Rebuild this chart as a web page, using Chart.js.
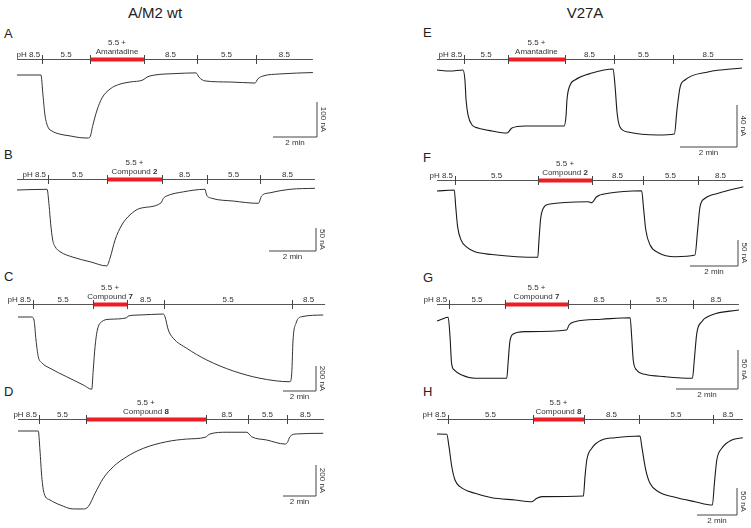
<!DOCTYPE html>
<html>
<head>
<meta charset="utf-8">
<script src="https://cdn.jsdelivr.net/npm/chart.js@4.4.1/dist/chart.umd.min.js"></script>
<style>
  body { margin: 0; width: 751px; height: 528px; position: relative; overflow: hidden; background: #fff;
         font-family: "Liberation Sans", Arial, sans-serif; color: #222; }
  canvas { position: absolute; }
  .ttl { position: absolute; font-size: 15px; line-height: 1; transform: translateX(-50%); white-space: nowrap; }
  .let { position: absolute; font-size: 13px; line-height: 1; }
</style>
</head>
<body>
<div class="ttl" style="left:155px;top:5px">A/M2 wt</div>
<div class="ttl" style="left:585px;top:5px">V27A</div>
<div class="let" style="left:4px;top:27px">A</div>
<div class="let" style="left:423px;top:26px">E</div>
<div class="let" style="left:4px;top:148px">B</div>
<div class="let" style="left:423px;top:151px">F</div>
<div class="let" style="left:4px;top:270px">C</div>
<div class="let" style="left:423px;top:271px">G</div>
<div class="let" style="left:4px;top:385px">D</div>
<div class="let" style="left:423px;top:385px">H</div>
<script>
"use strict";

const RED = "#ee1c25";
const FONT = '"Liberation Sans", Arial, sans-serif';

// Recordings: time in min from start of trace, current in nA relative to the first pH 8.5 level.
const timeA = [0, 0.59, 1.09, 1.18, 1.27, 1.41, 1.59, 1.95, 2.41, 2.86, 3.23, 3.32, 3.45, 3.64, 3.86, 4.23, 4.68, 5.14, 5.73, 5.91, 6.27, 7.18, 8.14, 8.27, 8.55, 9.68, 10.82, 10.95, 11.18, 11.95, 13.45];
const currentA = [0, 0, 0, -57, -114, -149, -160, -169, -174, -179, -180, -177, -143, -100, -66, -40, -26, -20, -14, -6, 0, 4, 6, -6, -17, -20, -23, -11, -3, 3, 7];

const timeB = [0, 1.28, 1.37, 1.43, 1.52, 1.62, 1.83, 2.38, 3.11, 3.82, 3.96, 4.17, 4.46, 4.81, 5.23, 6.13, 6.23, 6.37, 7.08, 8.0, 8.07, 8.29, 9.20, 10.27, 10.41, 10.77, 11.62, 12.68];
const currentB = [0, 1.5, -36, -72, -109, -123, -134, -146, -156, -165, -148, -109, -76, -54, -40, -28, -18, -13, -4, 1.5, -11, -18, -24, -29, -13, -6, 1.5, 3.7];

const timeC = [0, 0.83, 0.97, 1.09, 1.23, 1.44, 1.94, 2.95, 3.96, 4.47, 4.56, 4.67, 4.81, 5.07, 5.58, 6.59, 6.68, 7.39, 8.81, 8.91, 9.11, 9.41, 10.22, 11.44, 13.05, 14.67, 16.48, 16.59, 16.67, 16.85, 17.19, 18.50];
const currentC = [0, 0, -24, -184, -318, -366, -410, -478, -544, -578, -424, -238, -104, -38, -18, -6, 8, 16, 24, 2, -104, -170, -250, -344, -432, -490, -518, -450, -184, -50, 2, 16];

const timeD = [0, 1.23, 1.33, 1.44, 1.58, 1.94, 2.55, 3.35, 3.96, 4.26, 4.67, 5.17, 5.78, 6.59, 7.59, 9.01, 10.22, 11.33, 11.64, 12.65, 13.87, 14.16, 15.07, 16.18, 16.32, 16.48, 16.89, 18.50];
const currentD = [0, 0, -123, -295, -402, -445, -477, -503, -503, -488, -402, -305, -230, -166, -112, -69, -52, -41, -19, -8, -8, -37, -58, -84, -75, -37, -19, -15];

const timeE = [0, 0.46, 0.91, 0.98, 1.02, 1.09, 1.23, 1.44, 1.93, 2.46, 2.63, 3.09, 3.89, 4.46, 4.53, 4.56, 4.67, 4.84, 5.44, 6.18, 6.25, 6.32, 6.42, 6.70, 7.75, 8.33, 8.42, 8.53, 8.70, 9.51, 10.70];
const currentE = [0, -1, 0, -9.5, -28.6, -42.9, -52.4, -55.2, -58.1, -60, -55.2, -53.3, -53.3, -53.3, -42.9, -28.6, -14.3, -9.5, -2.9, 1, -16.2, -41, -54.3, -59, -61.9, -61, -38, -16.2, -9.5, -1.9, 1.9];

const timeF = [0, 0.72, 0.78, 0.86, 1.0, 1.24, 1.58, 2.28, 4.20, 4.25, 4.32, 4.43, 4.64, 6.30, 6.45, 6.65, 7.14, 8.53, 8.60, 8.70, 8.88, 9.22, 9.92, 10.75, 10.86, 10.96, 11.17, 11.72, 12.76];
const currentF = [0, 1.9, -30, -69, -94, -108, -117, -122, -127.5, -94, -52.5, -33, -25.6, -20.6, -22.5, -11, -4.4, 0.6, -30, -75, -104, -118.7, -126.3, -123, -75, -30, -14, -4.4, 8.3];

const timeG = [0, 0.15, 0.36, 0.42, 0.47, 0.56, 0.80, 1.23, 2.25, 2.30, 2.35, 2.46, 2.84, 4.18, 4.26, 4.45, 5.31, 6.23, 6.28, 6.33, 6.44, 6.71, 7.35, 8.24, 8.30, 8.38, 8.54, 8.86, 9.74];
const currentG = [-5.1, -2.9, -0.4, -25.3, -59.4, -68, -74.4, -78.6, -78.6, -55.1, -31.7, -21.8, -18.8, -16.7, -10.3, -6, -2.9, -0.9, -25.3, -55.1, -68, -73.5, -76.5, -78.6, -55.1, -20.9, -6, 2.6, 9];

const timeH = [0, 0.49, 0.6, 0.74, 0.9, 1.15, 1.9, 2.74, 3.9, 4.74, 4.99, 5.24, 7.32, 7.4, 7.49, 7.74, 8.24, 8.9, 10.15, 10.24, 10.44, 10.65, 11.07, 11.9, 12.9, 13.77, 13.87, 13.99, 14.24, 14.74, 15.29];
const currentH = [0, -0.6, -23.5, -60.6, -85.2, -97.6, -109.8, -118, -122.2, -125.4, -119, -116, -114.8, -79, -48.1, -26.5, -11.1, -6.9, -3.7, -23.5, -66.7, -91.3, -106.9, -117.2, -125.4, -131.5, -91.3, -48.1, -26.5, -11.1, -6.9];

// Solution changes (min): start, switches, end. Segment 2 is the drug application.
const stepsA = [0, 1.14, 3.32, 5.77, 8.18, 10.86, 13.45];
const stepsB = [0, 1.32, 3.83, 6.17, 8.09, 10.34, 12.68];
const stepsC = [0, 0.91, 4.55, 6.61, 8.85, 16.61, 18.61];
const stepsD = [0, 1.27, 4.12, 11.39, 13.94, 16.30, 18.55];
const stepsE = [0, 0.95, 2.49, 4.49, 6.21, 8.28, 10.74];
const stepsF = [0, 0.75, 4.21, 6.46, 8.58, 10.875, 12.75];
const stepsG = [0, 0.39, 2.19, 4.23, 6.23, 8.26, 9.74];
const stepsH = [0, 0.55, 4.8, 7.35, 10.1, 13.8, 15.3];

// Segment labels ("|" = new line, *x* = bold)
const labelsAmant = ["pH 8.5", "5.5", "5.5 +|Amantadine", "8.5", "5.5", "8.5"];
const labels2 = ["pH 8.5", "5.5", "5.5 +|Compound *2*", "8.5", "5.5", "8.5"];
const labels7 = ["pH 8.5", "5.5", "5.5 +|Compound *7*", "8.5", "5.5", "8.5"];
const labels8 = ["pH 8.5", "5.5", "5.5 +|Compound *8*", "8.5", "5.5", "8.5"];

// scale bars: current (nA) and time (min)
const barNA = { A: 100, B: 50, C: 200, D: 200, E: 40, F: 50, G: 50, H: 50 };
const barMin = 2;

// layout in page pixels: canvas box, trace origin, px per min / per nA, timeline y, scale bar corner
const LAYOUT = {
  A: { left: 0, top: 33, w: 375, h: 127, x0: 17, y0: 75, ppm: 22, ppn: 0.35, tl: 59.5, barX: 317, barY: 137 },
  E: { left: 375, top: 33, w: 376, h: 127, x0: 437, y0: 70, ppm: 28.5, ppn: 1.05, tl: 59.5, barX: 737, barY: 147 },
  B: { left: 0, top: 155, w: 375, h: 120, x0: 17, y0: 190, ppm: 23.5, ppn: 0.46, tl: 179.5, barX: 316, barY: 251 },
  F: { left: 375, top: 155, w: 376, h: 125, x0: 437, y0: 191, ppm: 24, ppn: 0.52, tl: 180.5, barX: 738, barY: 266 },
  C: { left: 0, top: 276, w: 375, h: 126, x0: 18, y0: 317, ppm: 16.5, ppn: 0.125, tl: 304.5, barX: 316, barY: 391 },
  G: { left: 375, top: 276, w: 376, h: 126, x0: 437, y0: 317, ppm: 31, ppn: 0.78, tl: 304.5, barX: 738, barY: 389 },
  D: { left: 0, top: 392, w: 375, h: 136, x0: 18, y0: 431, ppm: 16.5, ppn: 0.155, tl: 419.5, barX: 316, barY: 496 },
  H: { left: 375, top: 392, w: 376, h: 136, x0: 437, y0: 434, ppm: 20, ppn: 0.54, tl: 419.5, barX: 737, barY: 515 },
};

function drawLabel(ctx, text, cx, y, align) {
  const lines = text.split("|");
  const baseY = lines.length > 1 ? [y - 15, y - 5.5] : [y - 3];
  lines.forEach((line, i) => {
    const parts = line.split("*");
    const widths = parts.map((p, j) => {
      ctx.font = (j % 2 ? "bold " : "") + "8px " + FONT;
      return ctx.measureText(p).width;
    });
    const total = widths.reduce((a, b) => a + b, 0);
    let x = align === "right" ? cx - total : cx - total / 2;
    parts.forEach((p, j) => {
      ctx.font = (j % 2 ? "bold " : "") + "8px " + FONT;
      ctx.fillText(p, x, baseY[i]);
      x += widths[j];
    });
  });
}

function timelinePlugin(L, steps, labels, nA) {
  return {
    id: "timeline",
    afterDatasetsDraw(chart) {
      const { ctx } = chart;
      const x = chart.scales.x, yS = chart.scales.y;
      const y = L.tl - L.top;
      const px = (t) => x.getPixelForValue(t);
      ctx.save();
      ctx.strokeStyle = "#555";
      ctx.lineWidth = 1;
      ctx.beginPath();
      ctx.moveTo(px(steps[0]), y);
      ctx.lineTo(px(steps[steps.length - 1]), y);
      ctx.stroke();
      ctx.strokeStyle = RED;
      ctx.lineWidth = 4;
      ctx.beginPath();
      ctx.moveTo(px(steps[2]), y);
      ctx.lineTo(px(steps[3]), y);
      ctx.stroke();
      ctx.strokeStyle = "#444";
      ctx.lineWidth = 1;
      for (let i = 1; i < steps.length - 1; i++) {
        const tx = Math.round(px(steps[i])) + 0.5;
        ctx.beginPath();
        ctx.moveTo(tx, y - 4.5);
        ctx.lineTo(tx, y + 4.5);
        ctx.stroke();
      }
      ctx.fillStyle = "#333";
      ctx.textBaseline = "alphabetic";
      labels.forEach((lab, i) => {
        if (i === 0) drawLabel(ctx, lab, px(steps[1]) - 2, y, "right");
        else drawLabel(ctx, lab, (px(steps[i]) + px(steps[i + 1])) / 2, y, "center");
      });
      // scale bar captions
      const bt = (L.barX - L.x0) / L.ppm, bi = (L.y0 - L.barY) / L.ppn;
      const bx = px(bt), by = yS.getPixelForValue(bi), byTop = yS.getPixelForValue(bi + nA);
      ctx.font = "8px " + FONT;
      ctx.textAlign = "center";
      ctx.textBaseline = "top";
      ctx.fillText(barMin + " min", (px(bt - barMin) + bx) / 2, by + 2);
      ctx.translate(bx + 2.5, (by + byTop) / 2);
      ctx.rotate(Math.PI / 2);
      ctx.textBaseline = "bottom";
      ctx.fillText(nA + " nA", 0, 0);
      ctx.restore();
    },
  };
}

function makePanel(key, time, current, steps, labels, right) {
  const L = LAYOUT[key];
  const nA = barNA[key];
  const cv = document.createElement("canvas");
  cv.width = L.w;
  cv.height = L.h;
  cv.style.left = L.left + "px";
  cv.style.top = L.top + "px";
  cv.style.width = L.w + "px";
  cv.style.height = L.h + "px";
  document.body.appendChild(cv);

  const xmin = (L.left - L.x0) / L.ppm, xmax = (L.left + L.w - L.x0) / L.ppm;
  const ymax = (L.y0 - L.top) / L.ppn, ymin = (L.y0 - L.top - L.h) / L.ppn;
  const bt = (L.barX - L.x0) / L.ppm, bi = (L.y0 - L.barY) / L.ppn;

  new Chart(cv, {
    type: "line",
    data: {
      datasets: [
        { data: time.map((t, i) => ({ x: t, y: current[i] })), borderColor: right ? "#1a1a1a" : "#333",
          borderWidth: right ? 1.1 : 1, pointRadius: 0, cubicInterpolationMode: "monotone" },
        { data: [{ x: bt - barMin, y: bi }, { x: bt, y: bi }, { x: bt, y: bi + nA }],
          borderColor: "#444", borderWidth: 1, pointRadius: 0, tension: 0 },
      ],
    },
    options: {
      responsive: false,
      animation: false,
      devicePixelRatio: 1,
      events: [],
      layout: { padding: 0 },
      plugins: { legend: { display: false }, tooltip: { enabled: false } },
      scales: {
        x: { type: "linear", display: false, min: xmin, max: xmax },
        y: { type: "linear", display: false, min: ymin, max: ymax },
      },
    },
    plugins: [timelinePlugin(L, steps, labels, nA)],
  });
}

makePanel("A", timeA, currentA, stepsA, labelsAmant, false);
makePanel("B", timeB, currentB, stepsB, labels2, false);
makePanel("C", timeC, currentC, stepsC, labels7, false);
makePanel("D", timeD, currentD, stepsD, labels8, false);
makePanel("E", timeE, currentE, stepsE, labelsAmant, true);
makePanel("F", timeF, currentF, stepsF, labels2, true);
makePanel("G", timeG, currentG, stepsG, labels7, true);
makePanel("H", timeH, currentH, stepsH, labels8, true);
</script>
</body>
</html>
